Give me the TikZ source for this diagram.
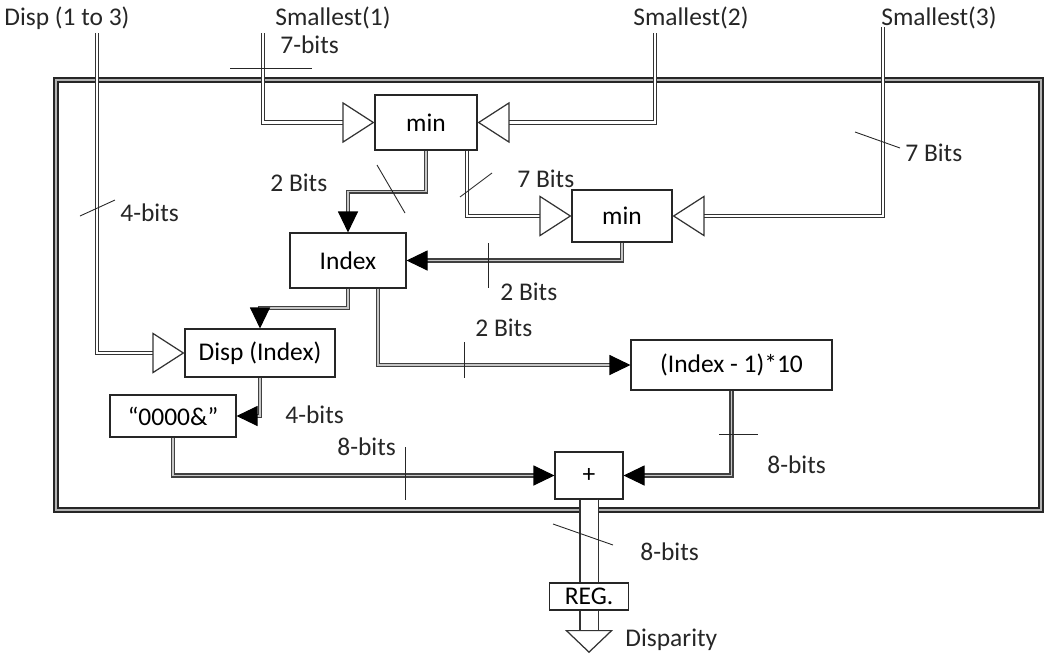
\documentclass[tikz,border=0pt]{standalone}
\usepackage{fontspec}
\setmainfont{Carlito}
\usetikzlibrary{arrows.meta, positioning, calc}
\tikzset{
    font=\fontsize{14.5}{17}\selectfont,
    % Tips
    tipF/.tip={Triangle[length=4.2mm, width=4mm, color=black]},
    tipO/.tip={Triangle[open, length=6.4mm, width=8.2mm, fill=white, line width=0.7pt]},
    % Shapes
    blk/.style={rectangle, draw=black!85, line width=0.6pt, fill=white, inner sep=0pt},
    % Lines
    bus/.style={draw=black!75, line width=0.6pt, double=gray!45, double distance=1.1pt},
    extBus/.style={draw=black!80, line width=0.5pt, double=white, double distance=1.6pt},
    outBus/.style={draw=black!80, line width=0.7pt, double=white, double distance=3.4mm},
    frameLine/.style={draw=black!85, line width=0.9pt, double=gray!60, double distance=1.5pt},
    tick/.style={draw=black!85, line width=0.5pt},
    lbl/.style={anchor=west, inner sep=0pt, text=black!85}
}
\begin{document}
\begin{tikzpicture}[x=0.2mm, y=-0.2mm]
\useasboundingbox (0,0) rectangle (1045,653);

\draw[frameLine] (56,80) rectangle (1041,510);

% blocks
\node[blk, minimum width=20.4mm, minimum height=11mm] (min1) at (426,122.5) {min};
\node[blk, minimum width=20mm, minimum height=10.4mm] (min2) at (622,216) {min};
\node[blk, minimum width=23.2mm, minimum height=11mm] (idx) at (348,260.5) {Index};
\node[blk, minimum width=30mm, minimum height=9.6mm] (dispIdx) at (260,353) {Disp (Index)};
\node[blk, minimum width=40.2mm, minimum height=10mm] (mul) at (731.5,365) {(Index - 1)*10};
\node[blk, minimum width=25.2mm, minimum height=8.4mm] (zero) at (173,416) {“0000\&”};
\node[blk, minimum width=13.6mm, minimum height=9.4mm] (plus) at (589,475.5) {+};
\node[blk, minimum width=15.8mm, minimum height=5.4mm] (reg) at (589,596.5) {REG.};

% inputs
\node[lbl] (lDisp) at (4,18) {Disp (1 to 3)};
\node[lbl] (lS1) at (275,18) {Smallest(1)};
\node[lbl] (lS2) at (633,18) {Smallest(2)};
\node[lbl] (lS3) at (881,18) {Smallest(3)};
\coordinate (inDisp) at (97,33);
\coordinate (inS1) at (263,33);
\coordinate (inS2) at (655,33);
\coordinate (inS3) at (883,27);
\coordinate (outEnd) at (589,653);

\draw[extBus, -tipO] (inDisp) |- (dispIdx.west);
\draw[extBus, -tipO] (inS1) |- (min1.west);
\draw[extBus, -tipO] (inS2) |- (min1.east);
\draw[extBus, -tipO] (inS3) |- (min2.east);

\draw[bus, -tipF] (min1.south) -- ++(0,41) -| (idx.north);
\draw[extBus, -tipO] ([xshift=8.2mm]min1.south) |- (min2.west);
\draw[bus, -tipF] (min2.south) |- (idx.east);
\draw[bus, -tipF] (idx.south) -- ++(0,19) -| (dispIdx.north);
\draw[bus, -tipF] ([xshift=6mm]idx.south) |- (mul.west);
\draw[bus, -tipF] (dispIdx.south) |- (zero.east);
\draw[bus, -tipF] (zero.south) |- (plus.west);
\draw[bus, -tipF] (mul.south) |- (plus.east);

\draw[outBus] (plus.south) -- (reg.north);
\draw[outBus, -{Triangle[open, length=4.6mm, width=9.6mm, fill=white]}] (reg.south) -- (outEnd);

% bit widths
\draw[tick] (230,68) -- (312,68);
\draw[tick] (80,216) -- (115,200);
\draw[tick] (377,165) -- (405,213);
\draw[tick] (460,197) -- (492,173);
\draw[tick] (855,132) -- (900,148);
\draw[tick] (488,243) -- (488,288);
\draw[tick] (464,342) -- (464,378);
\draw[tick] (405,447) -- (405,500);
\draw[tick] (719,434) -- (758,434);
\draw[tick] (553,524) -- (613,545);

\node[lbl] (b1) at (280,45) {7-bits};
\node[lbl] (b2) at (120,213) {4-bits};
\node[lbl] (b3) at (270,183) {2 Bits};
\node[lbl] (b4) at (517,179) {7 Bits};
\node[lbl] (b5) at (905,153) {7 Bits};
\node[lbl] (b6) at (500,292) {2 Bits};
\node[lbl] (b7) at (475,328) {2 Bits};
\node[lbl] (b8) at (285,415) {4-bits};
\node[lbl] (b9) at (337,447) {8-bits};
\node[lbl] (b10) at (767,465) {8-bits};
\node[lbl] (b11) at (640,552) {8-bits};
\node[lbl] (lOut) at (625,640) {Disparity};

\end{tikzpicture}
\end{document}
